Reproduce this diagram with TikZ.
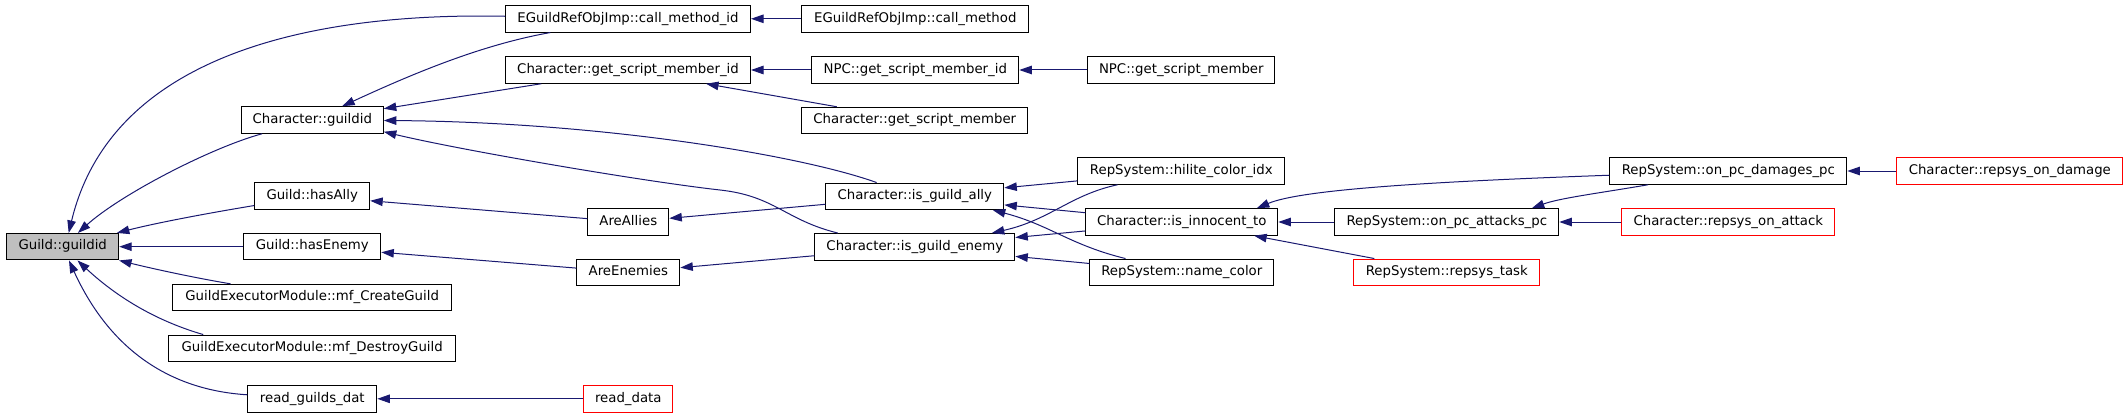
\documentclass[tikz,border=0pt]{standalone}
\usepackage{fontspec}
\usepackage{tikz}
\usetikzlibrary{arrows.meta}
\newfontfamily\dotfont{DejaVu Sans}
\definecolor{edgeblue}{RGB}{25,25,112}
\definecolor{rootgray}{RGB}{191,191,191}
\tikzset{
  fn/.style={draw=black,line width=1pt,minimum height=26.5pt,inner sep=0pt,
    text height=9.7pt,text depth=3.2pt,font=\dotfont\fontsize{13.3}{16}\selectfont},
  fnroot/.style={fn,fill=rootgray},
  fnext/.style={fn,draw=red},
  calls/.style={draw=edgeblue,line width=1pt,-{Triangle[length=12.5pt,width=8.5pt]}}
}
\begin{document}
\begin{tikzpicture}[x=1pt,y=-1pt]
\useasboundingbox (0,0) rectangle (2128,417);
% functions, column by column:
\node[fnroot,minimum width=112pt] (gg) at (62.7,246.7) {Guild::guildid};
\node[fn,minimum width=142pt] (cgid) at (312.3,120) {Character::guildid};
\node[fn,minimum width=115pt] (hasally) at (312.2,196) {Guild::hasAlly};
\node[fn,minimum width=137pt] (hasenemy) at (312.3,246.7) {Guild::hasEnemy};
\node[fn,minimum width=279pt] (create) at (312.2,297.6) {GuildExecutorModule::mf\_CreateGuild};
\node[fn,minimum width=287pt] (destroy) at (312.2,348.3) {GuildExecutorModule::mf\_DestroyGuild};
\node[fn,minimum width=129pt] (rgd) at (312.3,398.8) {read\_guilds\_dat};
\node[fn,minimum width=245pt] (cmid) at (628,18.8) {EGuildRefObjImp::call\_method\_id};
\node[fn,minimum width=245pt] (gsmid) at (628,70) {Character::get\_script\_member\_id};
\node[fn,minimum width=81pt] (areallies) at (628.3,222) {AreAllies};
\node[fn,minimum width=103pt] (areenemies) at (628.3,272.3) {AreEnemies};
\node[fnext,minimum width=89pt] (readdata) at (628.3,398.8) {read\_data};
\node[fn,minimum width=227pt] (cm) at (915.3,18.8) {EGuildRefObjImp::call\_method};
\node[fn,minimum width=207pt] (npcgsmid) at (915.3,70) {NPC::get\_script\_member\_id};
\node[fn,minimum width=226pt] (gsm) at (914.8,120.5) {Character::get\_script\_member};
\node[fn,minimum width=178pt] (ally) at (914.8,196.3) {Character::is\_guild\_ally};
\node[fn,minimum width=200pt] (enemy) at (914.8,246.8) {Character::is\_guild\_enemy};
\node[fn,minimum width=187pt] (npcgsm) at (1181.3,70) {NPC::get\_script\_member};
\node[fn,minimum width=207pt] (hilite) at (1181.3,171) {RepSystem::hilite\_color\_idx};
\node[fn,minimum width=192pt] (innocent) at (1181.8,222) {Character::is\_innocent\_to};
\node[fn,minimum width=184pt] (namecolor) at (1181.8,272.3) {RepSystem::name\_color};
\node[fn,minimum width=224pt] (attacks) at (1446.8,222) {RepSystem::on\_pc\_attacks\_pc};
\node[fnext,minimum width=186pt] (task) at (1446.8,272.3) {RepSystem::repsys\_task};
\node[fn,minimum width=237pt] (damages) at (1728.3,171) {RepSystem::on\_pc\_damages\_pc};
\node[fnext,minimum width=213pt] (onattack) at (1728.3,222) {Character::repsys\_on\_attack};
\node[fnext,minimum width=226pt] (ondamage) at (2009.8,171) {Character::repsys\_on\_damage};
% callers of Guild::guildid:
\draw[calls] (cmid) .. controls (300,12) and (110,60) .. ([xshift=6pt]gg.north);
\draw[calls] (cgid) .. controls (210,148) and (120,195) .. (gg);
\draw[calls] (hasally) .. controls (215,212) and (160,222) .. (gg);
\draw[calls] (hasenemy) -- (gg);
\draw[calls] (create) .. controls (190,277) and (150,268) .. (gg);
\draw[calls] ([xshift=-109pt]destroy.north) .. controls (160,322) and (120,300) .. (gg);
\draw[calls] (rgd) .. controls (170,390) and (110,350) .. (gg);
% callers of Character::guildid:
\draw[calls] (cmid) .. controls (480,45) and (410,75) .. (cgid);
\draw[calls] (gsmid) -- (cgid);
\draw[calls] (ally) .. controls (800,155) and (600,122) .. (cgid);
\draw[calls] ([xshift=-77pt]enemy.north) .. controls (785,220) and (775,196) .. (720,190)
  .. controls (640,181) and (460,150) .. ([yshift=2pt]cgid.south east);
% second column:
\draw[calls] (cm) -- (cmid);
\draw[calls] (npcgsmid) -- (gsmid);
\draw[calls] (gsm) -- (gsmid);
\draw[calls] (npcgsm) -- (npcgsmid);
\draw[calls] (areallies) -- (hasally);
\draw[calls] (areenemies) -- (hasenemy);
\draw[calls] (ally) -- (areallies);
\draw[calls] (enemy) -- (areenemies);
\draw[calls] (readdata) -- (rgd);
% ally / enemy checks:
\draw[calls] (hilite) -- (ally);
\draw[calls] (innocent) -- (ally);
\draw[calls] (namecolor) .. controls (1070,245) and (1050,225) .. ([xshift=78pt]ally.south);
\draw[calls] (hilite) .. controls (1070,195) and (1050,220) .. ([xshift=77pt]enemy.north);
\draw[calls] (innocent) -- (enemy);
\draw[calls] (namecolor) -- (enemy);
% reputation system:
\draw[calls] (damages) .. controls (1420,182) and (1300,190) .. ([xshift=75pt]innocent.north);
\draw[calls] (attacks) -- (innocent);
\draw[calls] (task) -- (innocent);
\draw[calls] (damages) .. controls (1600,193) and (1560,198) .. ([xshift=85pt]attacks.north);
\draw[calls] (onattack) -- (attacks);
\draw[calls] (ondamage) -- (damages);
\end{tikzpicture}
\end{document}
